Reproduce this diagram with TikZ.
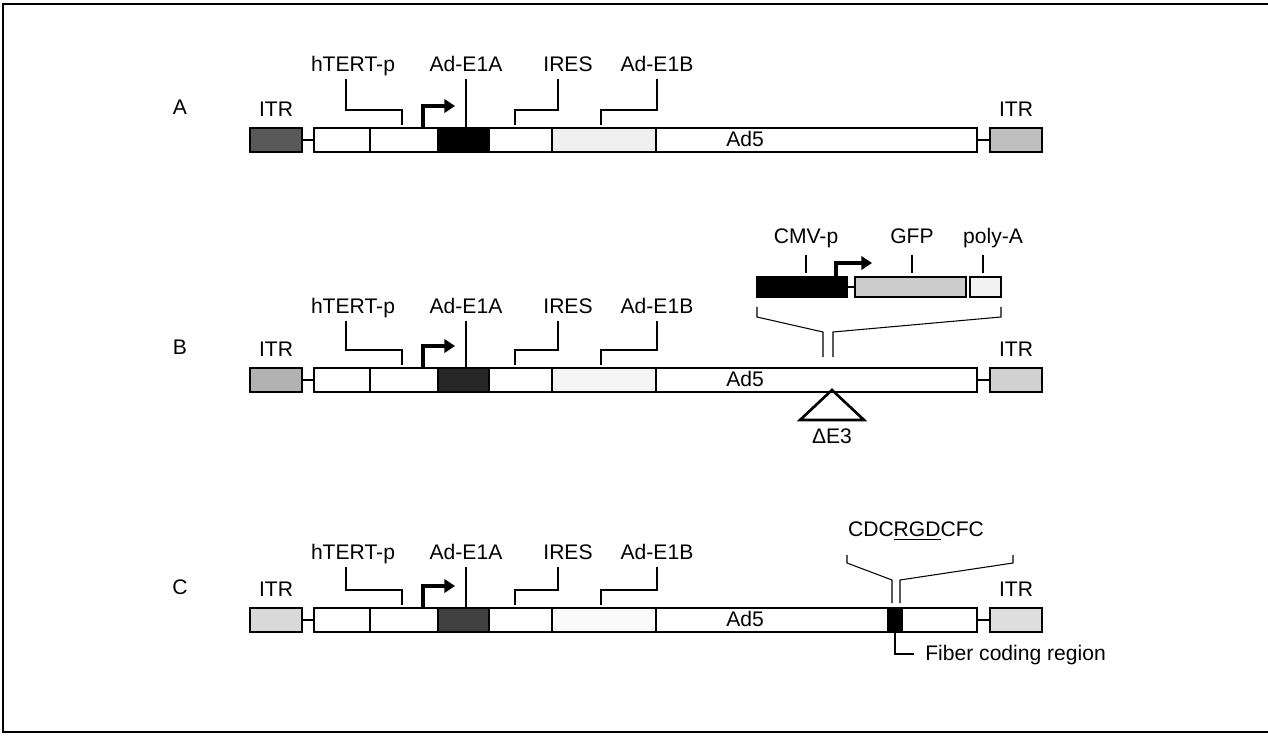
\documentclass[tikz,border=0pt]{standalone}
\usepackage{fontspec}
\setmainfont{Liberation Sans}
\usetikzlibrary{arrows.meta,positioning}
\tikzset{
  segline/.style={line width=1.1pt},
  lead/.style={line width=0.6pt},
  lbl/.style={font=\fontsize{12}{14}\selectfont,inner sep=0pt,text depth=.3ex},
  prom/.style={line width=1.8pt,-{Triangle[length=6pt,width=7.5pt]}},
}
\newcommand{\seg}[4]{%
  \draw[segline,fill=#4] (#1,#2) rectangle ++(#3,24);%
}

\begin{document}
\begin{tikzpicture}[x=0.02cm,y=-0.02cm]
  \useasboundingbox (0,0) rectangle (1268,736);
  \draw[line width=1.5pt] (1268,4) -- (3,4) -- (3,732) -- (1268,732);
  \foreach \rowy/\rowid/\lo/\fa/\fb/\fl/\fr in {128/A/53/black/gray!12/black!65/gray!50,
      368/B/51/black!85/gray!8/gray!60/gray!35, 608/C/45/black!75/gray!4/gray!30/gray!25}{
    \seg{250}{\rowy}{52}{\fl}
    \seg{314}{\rowy}{56}{white}
    \seg{370}{\rowy}{68}{white}
    \seg{438}{\rowy}{51}{\fa}
    \seg{489}{\rowy}{63}{white}
    \seg{552}{\rowy}{104}{\fb}
    \seg{656}{\rowy}{321}{white}
    \seg{990}{\rowy}{52}{\fr}
    \draw[segline] (302,\rowy+12) -- (314,\rowy+12);
    \draw[segline] (977,\rowy+12) -- (990,\rowy+12);
    \node[lbl] (\rowid-ad5) at (745,\rowy+12) {Ad5};
    \node[lbl] (\rowid-tag) at (180,\rowy-19) {\rowid};
    \node[lbl] (\rowid-itrl) at (276,\rowy-17) {ITR};
    \node[lbl] (\rowid-itrr) at (1016,\rowy-17) {ITR};
    \node[lbl,anchor=south] (\rowid-htert) at (353,\rowy-\lo) {hTERT-p};
    \node[lbl,anchor=south] (\rowid-eia) at (466,\rowy-\lo) {Ad-E1A};
    \node[lbl,anchor=south] (\rowid-ires) at (568,\rowy-\lo) {IRES};
    \node[lbl,anchor=south] (\rowid-eib) at (657,\rowy-\lo) {Ad-E1B};
    \draw[lead] (\rowid-htert.south) ++(-7,4) |- (402,\rowy-18) -- (402,\rowy-3);
    \draw[lead] (\rowid-eia.south) ++(0,4) -- (466,\rowy);
    \draw[lead] (\rowid-ires.south) ++(-10,4) |- (515,\rowy-18) -- (515,\rowy-3);
    \draw[lead] (\rowid-eib.south) ++(0,4) |- (601,\rowy-18) -- (601,\rowy-3);
    \draw[prom] (423,\rowy) -- (423,\rowy-22) -- (455,\rowy-22);
  }
  % insert of vector B
  \draw[segline,fill=black] (757,277) rectangle (847,297);
  \draw[segline] (847,287) -- (855,287);
  \draw[segline,fill=gray!40] (855,277) rectangle (966,297);
  \draw[segline,fill=gray!10] (970,277) rectangle (1001,297);
  \node[lbl,anchor=south] (cmv) at (806,247) {CMV-p};
  \node[lbl,anchor=south] (gfp) at (912,247) {GFP};
  \node[lbl,anchor=south] (polya) at (993,247) {poly-A};
  \draw[lead] (cmv.south) ++(0,8) -- ++(0,18);
  \draw[lead] (gfp.south) ++(0,8) -- ++(0,18);
  \draw[lead] (polya.south) ++(-10,8) -- ++(0,18);
  \draw[prom] (836,277) -- (836,263) -- (872,263);
  \coordinate (insl) at (823,357);
  \coordinate (insr) at (833,357);
  \draw[lead] (757,307) -- (757,317) -- (823,332) -- (insl);
  \draw[lead] (1001,307) -- (1001,317) -- (833,332) -- (insr);
  \draw[line width=1.5pt] (832,390) -- (800,420) -- (864,420) -- cycle;
  \node[lbl] (de3) at (832,438) {ΔE3};
  % RGD insertion of vector C
  \draw[segline,fill=black] (888,608) rectangle (902,632);
  \node[lbl] (rgd) at (916,531) {CDC\underline{RGD}CFC};
  \draw[lead] (847,555) -- (847,563) -- (892,580) -- (892,603);
  \draw[lead] (1013,555) -- (1013,563) -- (900,580) -- (900,603);
  \node[lbl,anchor=west] (fiber) at (925,654) {Fiber coding region};
  \draw[lead] (895,632) |- ([xshift=-6pt]fiber.west);
\end{tikzpicture}
\end{document}
